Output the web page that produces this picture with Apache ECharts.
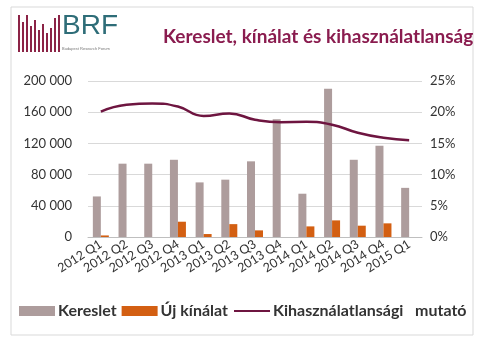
<!DOCTYPE html>
<html><head><meta charset="utf-8">
<script src="https://cdn.jsdelivr.net/npm/echarts@6/dist/echarts.min.js"></script>
<style>html,body{margin:0;padding:0;background:#fff}#c{width:483px;height:340px}</style>
</head><body><div id="c"></div>
<script>
const categories = ['2012 Q1','2012 Q2','2012 Q3','2012 Q4','2013 Q1','2013 Q2','2013 Q3','2013 Q4','2014 Q1','2014 Q2','2014 Q3','2014 Q4','2015 Q1'];
const kereslet = [52000, 94000, 94000, 99000, 70000, 73500, 97000, 151000, 55500, 190000, 99000, 117000, 63000];
const ujKinalat = [2000, 0, 0, 19600, 3800, 16500, 8500, 0, 13600, 21300, 14500, 17500, 0];
const mutato = [20.1, 21.2, 21.4, 20.9, 19.4, 19.8, 18.8, 18.4, 18.45, 18.0, 16.7, 15.9, 15.5];
const leftTicks = [0, 40000, 80000, 120000, 160000, 200000];
const rightTicks = [0, 5, 10, 15, 20, 25];

const FONT = 'Lato, "Open Sans", sans-serif';
const chart = echarts.init(document.getElementById('c'), null, {renderer: 'canvas'});
const fmt = v => v === 0 ? '0' : String(v).replace(/\B(?=(\d{3})+(?!\d))/g, ' ');
const logoBars = [[18,15,37],[22,22,30],[26,15,37],[30,26,26],[34,20,32],[38,30,22],[42,24,28],[46,33,19],[50,28,24],[54,18,34],[58,15,37]];
const graphic = [
  {type:'rect', shape:{x:11,y:7,width:462,height:328}, style:{fill:'none', stroke:'#d9d9d9', lineWidth:1}, silent:true},
  {type:'text', left:62, top:12, style:{text:'BRF', fill:'#2e6d78', font:'28px "Liberation Sans", sans-serif'}},
  {type:'text', left:62, top:47, style:{text:'Budapest Research Forum', fill:'#777', font:'4px sans-serif'}},
  {type:'text', left:163, top:27, style:{text:'Kereslet, kínálat és kihasználatlanság', fill:'#8a1c4f', font:'bold 19px ' + FONT}}
];
logoBars.forEach(b => graphic.push({type:'rect', shape:{x:b[0], y:b[1], width:2, height:b[2]}, style:{fill:'#8b2346'}}));

chart.setOption({
  animation:false,
  textStyle:{fontFamily:FONT},
  graphic: graphic,
  grid:{left:88, right:61, top:81, bottom:103},
  legend:{
    bottom:16, left:14, itemGap:5, itemWidth:36, itemHeight:10,
    textStyle:{fontSize:16, fontWeight:'bold', color:'#333', fontFamily:FONT, padding:[0,0,0,-2]},
    data:[{name:'Kereslet', icon:'rect'},{name:'Új kínálat', icon:'rect'},{name:'Kihasználatlansági   mutató', itemStyle:{opacity:0}}]
  },
  xAxis:{
    type:'category', data:categories,
    axisLine:{lineStyle:{color:'#bfbfbf'}}, axisTick:{show:false},
    axisLabel:{rotate:32, interval:0, fontSize:12.5, color:'#333', margin:6, fontFamily:FONT}
  },
  yAxis:[
    {type:'value', min:0, max:200000, interval:40000,
     axisLabel:{fontSize:13, color:'#333', formatter:fmt, margin:16, fontFamily:FONT},
     splitLine:{lineStyle:{color:'#d9d9d9'}}},
    {type:'value', min:0, max:25, interval:5,
     axisLabel:{fontSize:13, color:'#333', formatter:v=>v+'%', margin:8, fontFamily:FONT},
     splitLine:{show:false}}
  ],
  series:[
    {name:'Kereslet', type:'bar', data:kereslet, barWidth:8, barGap:'0%', itemStyle:{color:'#ad9c9c'}},
    {name:'Új kínálat', type:'bar', data:ujKinalat, barWidth:8, barGap:'0%', itemStyle:{color:'#d35f12'}},
    {name:'Kihasználatlansági   mutató', type:'line', yAxisIndex:1, data:mutato, smooth:true, symbol:'none',
     lineStyle:{color:'#6e1540', width:2.5}, itemStyle:{color:'#6e1540'}}
  ]
});
</script></body></html>
